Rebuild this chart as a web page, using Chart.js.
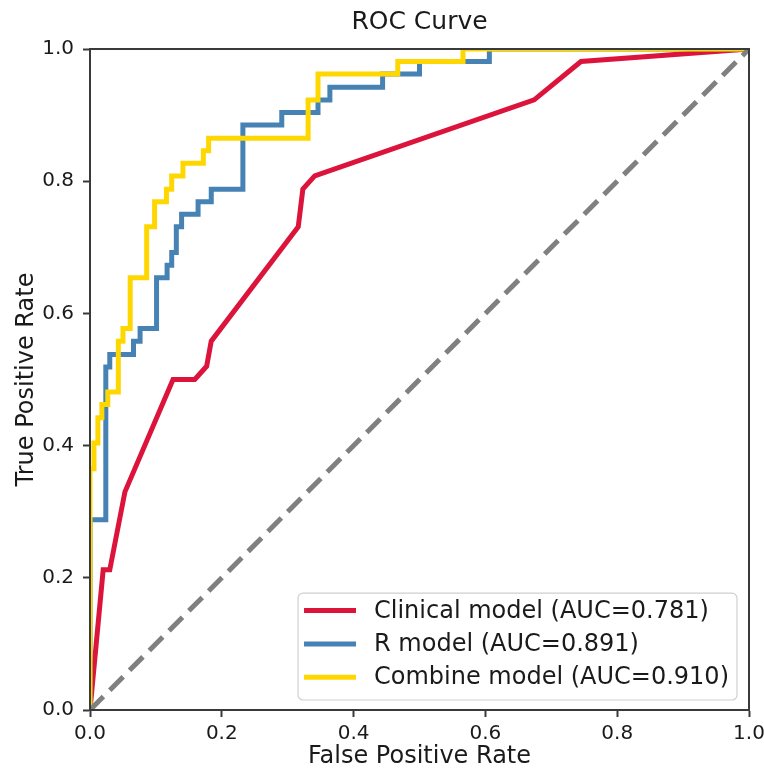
<!DOCTYPE html>
<html>
<head>
<meta charset="utf-8">
<script src="https://cdn.jsdelivr.net/npm/chart.js@4.4.0/dist/chart.umd.min.js"></script>
<style>
html,body{margin:0;padding:0;background:#ffffff;}
#wrap{width:764px;height:771px;position:relative;}
</style>
</head>
<body>
<div id="wrap"><canvas id="c" width="764" height="771"></canvas></div>
<script>
// ---- data ----
const chartTitle = 'ROC Curve';
const xAxisTitle = 'False Positive Rate';
const yAxisTitle = 'True Positive Rate';
const xTicks = [0.0, 0.2, 0.4, 0.6, 0.8, 1.0];
const yTicks = [0.0, 0.2, 0.4, 0.6, 0.8, 1.0];

const clinicalLabel = 'Clinical model (AUC=0.781)';
const clinicalFpr = [0, 0.020, 0.030, 0.053, 0.126, 0.159, 0.177, 0.184, 0.316, 0.323, 0.341, 0.674, 0.745, 1.0];
const clinicalTpr = [0, 0.212, 0.212, 0.330, 0.500, 0.500, 0.520, 0.558, 0.731, 0.788, 0.808, 0.923, 0.981, 1.0];

const rLabel = 'R model (AUC=0.891)';
const rFpr = [0, 0, 0.024, 0.024, 0.030, 0.030, 0.066, 0.066, 0.076, 0.076, 0.101, 0.101, 0.117, 0.117, 0.124, 0.124, 0.131, 0.131, 0.139, 0.139, 0.164, 0.164, 0.184, 0.184, 0.232, 0.232, 0.291, 0.291, 0.346, 0.346, 0.364, 0.364, 0.444, 0.444, 0.500, 0.500, 0.606, 0.606, 1.0];
const rTpr = [0, 0.288, 0.288, 0.519, 0.519, 0.538, 0.538, 0.558, 0.558, 0.577, 0.577, 0.654, 0.654, 0.673, 0.673, 0.692, 0.692, 0.731, 0.731, 0.750, 0.750, 0.769, 0.769, 0.788, 0.788, 0.885, 0.885, 0.904, 0.904, 0.923, 0.923, 0.942, 0.942, 0.962, 0.962, 0.981, 0.981, 1.0, 1.0];

const combineLabel = 'Combine model (AUC=0.910)';
const combineFpr = [0, 0, 0.006, 0.006, 0.012, 0.012, 0.018, 0.018, 0.027, 0.027, 0.043, 0.043, 0.050, 0.050, 0.061, 0.061, 0.086, 0.086, 0.098, 0.098, 0.116, 0.116, 0.124, 0.124, 0.141, 0.141, 0.172, 0.172, 0.180, 0.180, 0.331, 0.331, 0.346, 0.346, 0.467, 0.467, 0.566, 0.566, 1.0];
const combineTpr = [0, 0.365, 0.365, 0.404, 0.404, 0.442, 0.442, 0.462, 0.462, 0.481, 0.481, 0.558, 0.558, 0.577, 0.577, 0.654, 0.654, 0.731, 0.731, 0.769, 0.769, 0.788, 0.788, 0.808, 0.808, 0.827, 0.827, 0.846, 0.846, 0.865, 0.865, 0.923, 0.923, 0.962, 0.962, 0.981, 0.981, 1.0, 1.0];

const chanceFpr = [0, 1];
const chanceTpr = [0, 1];

// ---- helpers ----
const zip = (xs, ys) => xs.map((x, i) => ({x: x, y: ys[i]}));
const FONT = '"DejaVu Sans", "Liberation Sans", sans-serif';
const SPINE = '#3a3a3a';

const frame = {
  id: 'frame',
  afterDatasetsDraw(chart) {
    const a = chart.chartArea, ctx = chart.ctx;
    ctx.save();
    ctx.strokeStyle = SPINE;
    ctx.lineWidth = 2;
    ctx.strokeRect(a.left, a.top, a.right - a.left, a.bottom - a.top);
    ctx.restore();
  }
};

const insideLegend = {
  id: 'insideLegend',
  afterDraw(chart) {
    const ctx = chart.ctx, a = chart.chartArea;
    const items = chart.data.datasets.filter(d => d.label).sort((p, q) => p.legendIndex - q.legendIndex);
    const fontPx = 24, rowH = 33.3;
    ctx.save();
    ctx.font = fontPx + 'px ' + FONT;
    const maxW = Math.max.apply(null, items.map(d => ctx.measureText(d.label).width));
    const lineStart = 6, lineLen = 52, textStart = 76, padR = 8;
    const w = textStart + maxW + padR;
    const h = rowH * items.length + 7;
    const right = a.right - 12, bottom = a.bottom - 10;
    const left = right - w, top = bottom - h;
    const r = 5;
    ctx.beginPath();
    ctx.moveTo(left + r, top);
    ctx.arcTo(right, top, right, bottom, r);
    ctx.arcTo(right, bottom, left, bottom, r);
    ctx.arcTo(left, bottom, left, top, r);
    ctx.arcTo(left, top, right, top, r);
    ctx.closePath();
    ctx.fillStyle = 'rgba(255,255,255,0.85)';
    ctx.fill();
    ctx.strokeStyle = '#d0d0d0';
    ctx.lineWidth = 1.2;
    ctx.stroke();
    items.forEach((d, i) => {
      const cy = top + 17.5 + i * rowH;
      ctx.beginPath();
      ctx.strokeStyle = d.borderColor;
      ctx.lineWidth = 5;
      ctx.moveTo(left + lineStart, cy);
      ctx.lineTo(left + lineStart + lineLen, cy);
      ctx.stroke();
      ctx.fillStyle = '#1a1a1a';
      ctx.textBaseline = 'middle';
      ctx.textAlign = 'left';
      ctx.fillText(d.label, left + textStart, cy + 1);
    });
    ctx.restore();
  }
};

const lineStyle = (color) => ({
  borderColor: color, backgroundColor: color, borderWidth: 5,
  showLine: true, pointRadius: 0, pointHoverRadius: 0, tension: 0, fill: false, clip: 0
});

new Chart(document.getElementById('c'), {
  type: 'scatter',
  data: {
    datasets: [
      Object.assign({label: clinicalLabel, legendIndex: 0, order: 3, data: zip(clinicalFpr, clinicalTpr)}, lineStyle('#dc143c')),
      Object.assign({label: rLabel, legendIndex: 1, order: 2, data: zip(rFpr, rTpr)}, lineStyle('#4682b4')),
      Object.assign({label: combineLabel, legendIndex: 2, order: 1, data: zip(combineFpr, combineTpr)}, lineStyle('#ffd700')),
      Object.assign({label: '', order: 0, data: zip(chanceFpr, chanceTpr), borderDash: [19, 9], borderCapStyle: 'butt'}, lineStyle('#808080'))
    ]
  },
  options: {
    responsive: false,
    animation: false,
    devicePixelRatio: 1,
    layout: {padding: {left: 0, right: 15, top: 0, bottom: 0}},
    plugins: {
      legend: {display: false},
      tooltip: {enabled: false},
      title: {
        display: true, text: chartTitle, fullSize: false,
        color: '#1a1a1a',
        font: {family: FONT, size: 25, weight: 'normal', lineHeight: 1.2},
        padding: {top: 7, bottom: 12}
      }
    },
    scales: {
      x: {
        type: 'linear', position: 'bottom', min: 0, max: 1,
        afterBuildTicks: s => { s.ticks = xTicks.map(v => ({value: v})); },
        afterFit: s => { s.height = 61; s.paddingLeft = 0; s.paddingRight = 0; },
        ticks: {
          callback: v => Number(v).toFixed(1), color: '#1a1a1a', padding: 5,
          maxRotation: 0, autoSkip: false,
          font: {family: FONT, size: 20}
        },
        grid: {display: true, drawOnChartArea: false, drawTicks: true, tickLength: 7, tickWidth: 2, tickColor: SPINE, color: SPINE},
        border: {display: true, color: SPINE, width: 2},
        title: {display: true, text: xAxisTitle, color: '#1a1a1a', font: {family: FONT, size: 24, lineHeight: 1.0}, padding: {top: 0, bottom: 2}}
      },
      y: {
        type: 'linear', position: 'left', min: 0, max: 1,
        afterBuildTicks: s => { s.ticks = yTicks.map(v => ({value: v})); },
        afterFit: s => { s.width = 90; s.paddingTop = 0; s.paddingBottom = 0; },
        ticks: {
          callback: v => Number(v).toFixed(1), color: '#1a1a1a', padding: 9,
          autoSkip: false,
          font: {family: FONT, size: 20}
        },
        grid: {display: true, drawOnChartArea: false, drawTicks: true, tickLength: 7, tickWidth: 2, tickColor: SPINE, color: SPINE},
        border: {display: true, color: SPINE, width: 2},
        title: {display: true, text: yAxisTitle, color: '#1a1a1a', font: {family: FONT, size: 24, lineHeight: 1.2}, padding: {top: 12, bottom: 0}}
      }
    }
  },
  plugins: [frame, insideLegend]
});
</script>
</body>
</html>
